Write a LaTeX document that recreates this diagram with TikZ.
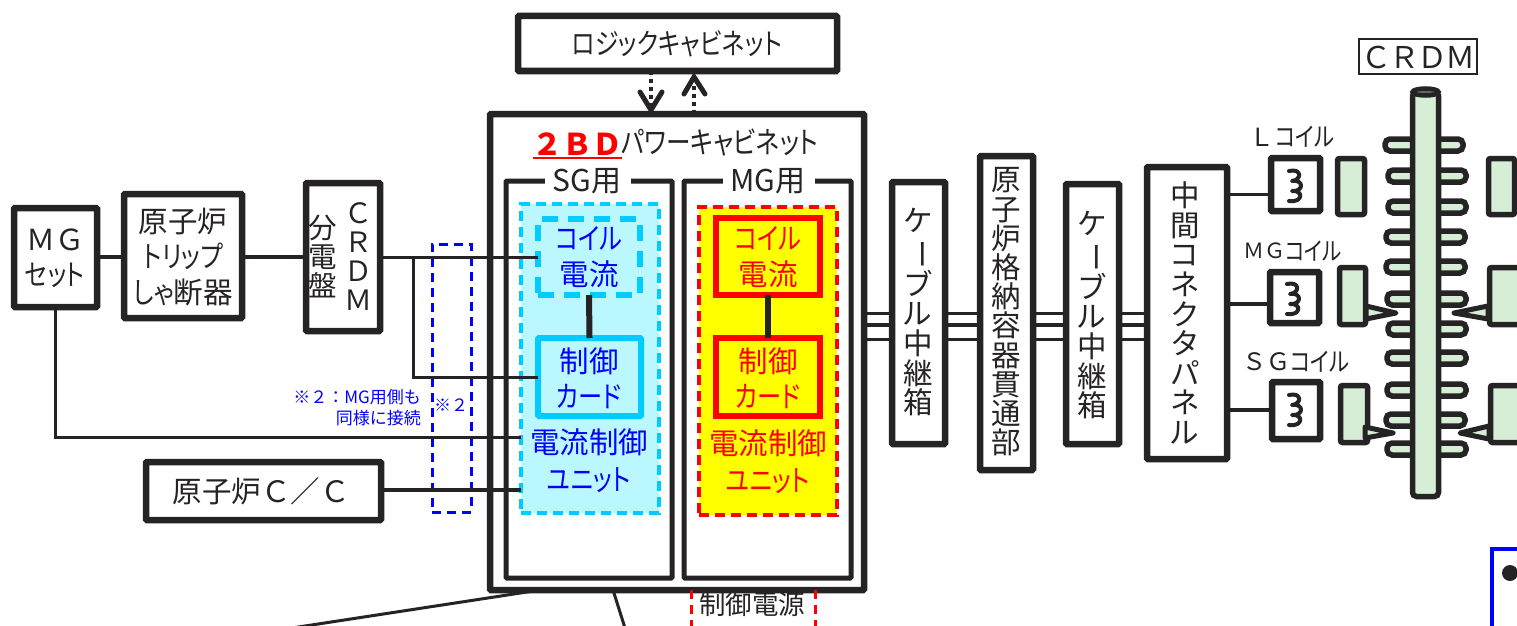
\documentclass[tikz,border=0pt]{standalone}
\usepackage{fontspec}
\usepackage{graphicx}
\usetikzlibrary{fit}
\setmainfont{Noto Sans CJK JP}[RawFeature=+palt]
\newfontfamily\kn{Noto Sans CJK JP}[RawFeature=+palt,FakeStretch=0.82]
\newfontfamily\fw{Noto Sans CJK JP}
\newcommand{\fs}[2]{\fontsize{#1}{#2}\selectfont}
\newcommand{\vb}{\rotatebox[origin=c]{-90}{ー}}
\definecolor{ink}{HTML}{262324}
\definecolor{cy}{HTML}{00CCFF}
\definecolor{cyl}{HTML}{BBF7FF}
\definecolor{grn}{HTML}{D5EED5}
\definecolor{bl}{HTML}{0000FF}
\definecolor{rd}{HTML}{FF0000}
\definecolor{ye}{HTML}{FFFF00}
\tikzset{
  bx/.style={fit={#1},inner sep=0pt,outer sep=0pt,draw=ink,fill=white,rounded corners=1pt},
  thick5/.style={line width=6.5pt},
  frame4/.style={line width=5pt},
  wire/.style={draw=ink,line width=3pt},
  wireb/.style={draw=ink,line width=4pt},
  link/.style={draw=ink,line width=6pt},
  lab/.style={text=ink,align=center,inner sep=0pt},
  vlab/.style={lab,font=\fs{29.5}{#1}},
  gfill/.style={draw=ink,fill=grn,line width=5.5pt,rounded corners=2pt},
  hook/.style={draw=ink,fill=grn,line width=5pt,line join=round},
  coil/.style={draw=ink,line width=4pt,line cap=round,line join=round},
  dotl/.style={draw=ink,line width=4pt,dash pattern=on 4pt off 4pt},
  vee/.style={draw=ink,line width=5pt,line cap=round,line join=miter},
}
\begin{document}
\begin{tikzpicture}[x=1pt,y=-1pt]
\clip (0,0) rectangle (1517,626);
% bottom stubs
\coordinate (stubA) at (292,628);
\coordinate (stubB) at (625,628);
\coordinate (redA) at (691,628);
\coordinate (redB) at (815,628);
% cabinets
\node[bx={(518,16)(837,71)},thick5] (logic) {};
\node[bx={(490,114)(864,590)},thick5] (cab) {};
\draw[draw=rd,line width=3pt,dash pattern=on 9pt off 6pt] (cab.south -| redA) -- (redA);
\draw[draw=rd,line width=3pt,dash pattern=on 9pt off 6pt] (cab.south -| redB) -- (redB);
\draw[wire] (540,590) -- (stubA);
\draw[wire] (613,590) -- (stubB);
\node[bx={(506,181)(672,578)},frame4] (sg) {};
\node[bx={(684,181)(851,578)},frame4] (mg) {};
\fill[white] (545,170) rectangle (631,190);
\fill[white] (723,170) rectangle (815,190);
\node[lab,font=\fs{30}{34}] (sgl) at (587,181) {SG用};
\node[lab,font=\fs{30}{34}] (mgl) at (768,181) {MG用};
\node[lab,font=\kn\fs{30}{34},anchor=west] (pw) at (621,142) {パワーキャビネット};
\node[lab,font=\fw\bfseries\fs{30}{34},text=rd,anchor=east] (bd) at (623,144) {２ＢＤ};
\draw[draw=rd,line width=2pt] (533,157.5) -- (622,157.5);
\node[lab,font=\kn\fs{29}{34}] (lgl) at (677,44) {ロジックキャビネット};
% dashed box
\node[fit={(432,244)(471,512)},inner sep=0pt,outer sep=0pt,draw=bl,line width=3pt,dash pattern=on 9pt off 6pt] (blue) {};
\node[lab,font=\fw\fs{17}{20},text=bl] (n2) at (451,405) {※２};
% SG unit
\node[fit={(521,204)(659,513)},inner sep=0pt,outer sep=0pt,draw=cy,fill=cyl,line width=3.5pt,dash pattern=on 10pt off 6pt] (sgu) {};
\node[fit={(538,219)(640,295)},inner sep=0pt,outer sep=0pt,draw=cy,line width=6pt,dash pattern=on 16pt off 10pt] (sgc) {};
\node[fit={(538,338)(641,416)},inner sep=0pt,outer sep=0pt,draw=cy,line width=6pt,rounded corners=1pt] (sgk) {};
\draw[link] (sgc.south) -- (sgk.north);
\node[lab,text=bl,font=\fs{29.5}{36}] (t1) at (589,257) {{\kn コイル}\\電流};
\node[lab,text=bl,font=\fs{29.5}{35}] (t2) at (589,378) {制御\\{\kn カード}};
\node[lab,text=bl,font=\fs{29.5}{37}] (t3) at (589,461) {電流制御\\{\kn ユニット}};
% MG unit
\node[fit={(699,207)(837,515)},inner sep=0pt,outer sep=0pt,draw=rd,fill=ye,line width=3.5pt,dash pattern=on 10pt off 6pt] (mgu) {};
\node[fit={(716,218)(820,295)},inner sep=0pt,outer sep=0pt,draw=rd,fill=ye,line width=6pt] (mgc) {};
\node[fit={(716,338)(820,416)},inner sep=0pt,outer sep=0pt,draw=rd,fill=ye,line width=6pt] (mgk) {};
\draw[link] (mgc.south) -- (mgk.north);
\node[lab,text=rd,font=\fs{29.5}{36}] (t4) at (768,257) {{\kn コイル}\\電流};
\node[lab,text=rd,font=\fs{29.5}{35}] (t5) at (768,378) {制御\\{\kn カード}};
\node[lab,text=rd,font=\fs{29.5}{37}] (t6) at (768,462) {電流制御\\{\kn ユニット}};
% left boxes
\node[bx={(14,208)(97,307)},thick5] (ms) {};
\node[lab,font=\fs{29}{35}] (mst) at (55,258) {{\fw ＭＧ}\\{\kn セット}};
\node[bx={(124,194)(242,318)},thick5] (trip) {};
\node[lab,font=\fs{29.5}{35.5}] (tript) at (183,257) {原子炉\\{\kn トリップ}\\{\kn しゃ}断器};
\node[bx={(306,183)(380,331)},thick5] (crd) {};
\node[lab,font=\fw\fs{28}{29}] (crt1) at (358,257) {Ｃ\\Ｒ\\Ｄ\\Ｍ};
\node[lab,font=\fw\fs{28.5}{29}] (crt2) at (323,257) {分\\電\\盤};
\node[bx={(146,462)(381,520)},thick5] (cc) {};
\node[lab,font=\fw\fs{29.5}{34}] (cct) at (261,491) {原子炉Ｃ／Ｃ};
\coordinate (br) at (413,257);
\draw[wireb] (ms.east |- 0,257) -- (trip.west |- 0,257);
\draw[wireb] (trip.east |- 0,257) -- (crd.west |- 0,257);
\draw[wire] (crd.east |- br) -- (sgc.west |- br);
\draw[wire] (br) -- (br |- 0,377) -- (sgk.west |- 0,377);
\draw[wire] (ms.south -| 55,0) -- (55,437) -- (sgu.west |- 0,437);
\draw[wireb] (cc.east |- 0,490) -- (sgu.west |- 0,490);
\node[lab,text=bl,font=\fw\fs{17}{21},align=right,anchor=east] (note) at (421,408) {※２：MG用側も\hspace{6pt}\\同様に接続};
% arrows
\coordinate (a1) at (651,110); \coordinate (a2) at (694,77);
\draw[dotl] (logic.south -| a1) -- (a1);
\draw[vee] (640,92) -- (a1) -- (662,92);
\draw[dotl] (cab.north -| a2) -- (a2);
\draw[vee] (684,94) -- (a2) -- (705,94);
% cable boxes
\node[bx={(892,182)(945,444)},thick5] (c1) {};
\node[bx={(980,156)(1033,470)},thick5] (c2) {};
\node[bx={(1066,184)(1119,444)},thick5] (c3) {};
\node[bx={(1147,167)(1227,459)},thick5] (c4) {};
\foreach \p/\q in {cab/c1,c1/c2,c2/c3,c3/c4}{
  \draw[wire] (\p.east |- 0,313) -- (\q.west |- 0,313);
  \draw[wireb] (\p.east |- 0,325) -- (\q.west |- 0,325);
  \draw[wire] (\p.east |- 0,339) -- (\q.west |- 0,339);
}
\node[vlab=29.6] (c1t) at (918,312) {ケ\\\vb\\ブ\\ル\\中\\継\\箱};
\node[vlab=29.2] (c2t) at (1006,312) {原\\子\\炉\\格\\納\\容\\器\\貫\\通\\部};
\node[vlab=29.6] (c3t) at (1092,315) {ケ\\\vb\\ブ\\ル\\中\\継\\箱};
\node[vlab=29.6] (c4t) at (1185,313) {中\\間\\コ\\ネ\\ク\\タ\\パ\\ネ\\ル};
% coil boxes
\node[bx={(1271,158)(1320,211)},thick5] (cl) {};
\node[bx={(1270,272)(1319,323)},thick5] (cm) {};
\node[bx={(1272,382)(1320,439)},thick5] (cs) {};
\draw[wire] (c4.east |- 0,194) -- (cl.west |- 0,194);
\draw[wireb] (c4.east |- 0,304) -- (cm.west |- 0,304);
\draw[wireb] (c4.east |- 0,410) -- (cs.west |- 0,410);
\foreach \cx/\cy in {1295/186,1293/299,1295/410}{
  \draw[coil,shift={(\cx,\cy)}] (-6,-15) .. controls (7,-18) and (7,-6) .. (-3,-5) .. controls (9,-7) and (9,6) .. (-3,5) .. controls (9,4) and (8,17) .. (-6,15);
}
\node[lab,anchor=east,font=\fw\fs{25}{28}] (clt0) at (1275,137) {Ｌ};
\node[lab,anchor=west,font=\kn\fs{26}{28}] (clt1) at (1275,137) {コイル};
\node[lab,anchor=east,font=\fw\fs{21}{28}] (cmt0) at (1286,251) {ＭＧ};
\node[lab,anchor=west,font=\kn\fs{25}{28}] (cmt1) at (1285,251) {コイル};
\node[lab,anchor=east,font=\fw\fs{24}{28}] (cst0) at (1291,362) {ＳＧ};
\node[lab,anchor=west,font=\kn\fs{26}{28}] (cst1) at (1290,362) {コイル};
% fins
\foreach \y/\l/\r in {145/1385/1463,176/1388/1466,207/1388/1466,237/1386/1465,267/1386/1465,299/1387/1466,329/1388/1466,358/1387/1466,390/1387/1466,420/1386/1465,449/1387/1466}{
  \draw[draw=ink,fill=grn,line width=5.5pt,rounded corners=5pt] (\l,\y-6) rectangle (\r,\y+6);
}
% rod
\draw[draw=ink,fill=grn,line width=5.5pt,rounded corners=4pt] (1412.5,92) rectangle (1438.5,496.5);
\draw[draw=ink,fill=ink!70,line width=4.5pt] (1425.5,92) ellipse (13 and 3.5);
\node[fit={(1359,39)(1477,74)},inner sep=0pt,outer sep=0pt,draw=ink,fill=white,line width=2pt] (lb) {};
\node[lab,font=\fw\fs{30}{34}] (lbt) at (1418,57) {Ｃ\hspace{-2pt}Ｒ\hspace{-2pt}Ｄ\hspace{-2pt}Ｍ};
% green poles
\foreach \a/\b/\c/\d in {1337.5/158.5/1364.5/214.5,1339.5/267.5/1365.5/324.5,1340.5/385.5/1367.5/442.5,1488.5/158.5/1514.5/214.5,1489.5/267.5/1520/324.5,1490.5/385.5/1520/442.5}{
  \draw[gfill] (\a,\b) rectangle (\c,\d);
}
% latches
\draw[hook] (1366,306) -- (1396,313) -- (1366,319) -- cycle;
\draw[hook] (1488,306) -- (1454,313) -- (1488,319) -- cycle;
\draw[hook] (1365,427) -- (1393,433) -- (1365,438) -- cycle;
\draw[hook] (1489,426) -- (1460,433) -- (1489,439) -- cycle;
% partial blue box
\draw[draw=bl,line width=4.5pt] (1492,628) -- (1492,549) -- (1520,549);
\fill[ink] (1510,573) circle (8);
\node[lab,font=\fs{26.5}{34}] (ps) at (752,604) {制御電源};
\end{tikzpicture}
\end{document}
